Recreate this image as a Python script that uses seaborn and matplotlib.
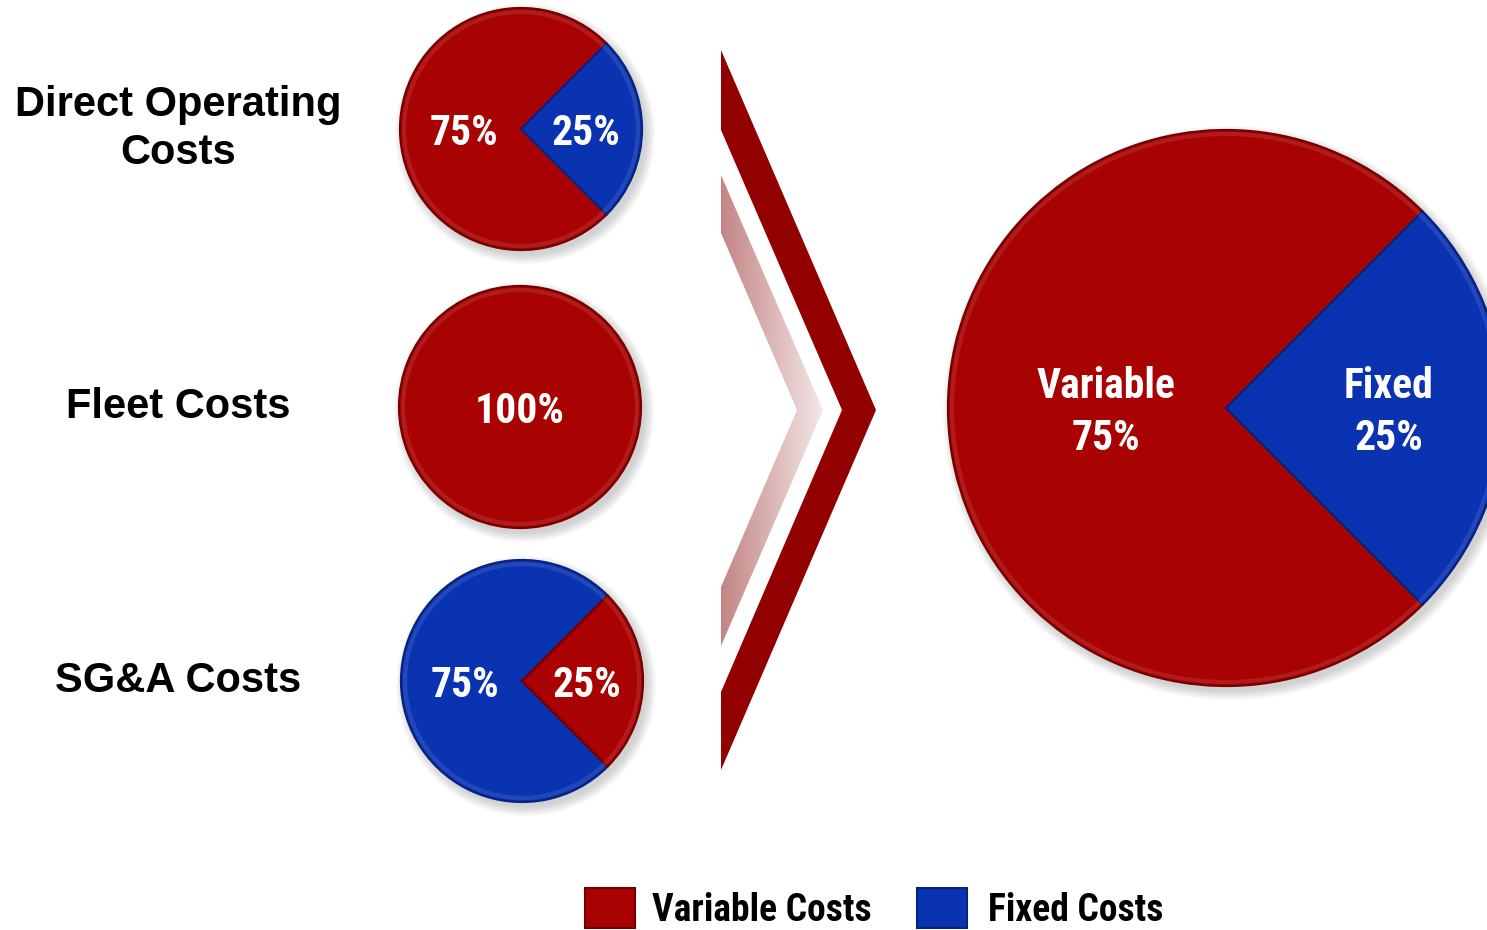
import numpy as np
import matplotlib
matplotlib.use("Agg")
import matplotlib.pyplot as plt
from matplotlib import font_manager
from matplotlib.patches import Circle, Polygon, Rectangle
import seaborn as sns

# chart data
categories = ["Direct Operating\nCosts", "Fleet Costs", "SG&A Costs"]
variable_pct = [75, 100, 25]
fixed_pct = [25, 0, 75]
total_labels = ["Variable", "Fixed"]
total_pct = [75, 25]
legend_labels = ["Variable Costs", "Fixed Costs"]

# chevron outlines (pixel space, y measured from top)
chevron_dark = [(721, 50), (876, 410), (721, 770), (721, 692), (842, 410), (721, 130)]
chevron_light = [(721, 175), (823, 410), (721, 646), (721, 587), (797, 410), (721, 233)]

W, H = 1487, 930
RED, BLUE = "#a80202", "#0a33b2"
RED_EDGE, BLUE_EDGE = "#740000", "#08237e"
DARK = "#930000"

sns.set_theme(style="white")
plt.rcParams["font.family"] = ["Liberation Sans", "DejaVu Sans"]

# look for a narrow bold face, fall back to plain Liberation Sans
installed = {f.name for f in font_manager.fontManager.ttflist}
narrow_font = None
for name in ["Liberation Sans Narrow", "Arial Narrow", "Roboto Condensed",
             "Open Sans Condensed", "Noto Sans Condensed", "DejaVu Sans Condensed"]:
    if name in installed:
        narrow_font = name
        break
if narrow_font is None:
    narrow = ["Liberation Sans", "DejaVu Sans"]
    pie_fs, leg_fs = 27, 23
else:
    narrow = [narrow_font, "Liberation Sans", "DejaVu Sans"]
    pie_fs, leg_fs = 30, 27
colors = dict(zip(legend_labels, sns.color_palette([RED, BLUE])))

fig = plt.figure(figsize=(W / 100, H / 100), dpi=100)
ax = fig.add_axes([0, 0, 1, 1])


def flip(y):
    return H - y


def shadow(cx, cy, r):
    for k in range(8):
        ax.add_patch(Circle((cx + 4, cy - 5), r + k * 1.3, color="#555555",
                            alpha=0.035, lw=0, zorder=1))


def draw_pie(cx, cy, r, values, cols, edges, labels, dists, fs):
    shadow(cx, cy, r)
    wedges, _ = ax.pie(values, colors=cols, startangle=45, counterclock=True,
                       center=(cx, cy), radius=r, frame=True,
                       wedgeprops=dict(linewidth=0))
    for w, ec in zip(wedges, edges):
        w.set_edgecolor(ec)
        w.set_linewidth(1.6)
        w.set_zorder(2)
    # soft highlight ring just inside the rim
    ax.add_patch(Circle((cx, cy), r - 4, facecolor="none", edgecolor="white",
                        alpha=0.1, lw=3, zorder=2.5))
    for w, lab, d in zip(wedges, labels, dists):
        mid = np.deg2rad((w.theta1 + w.theta2) / 2)
        if len(values) == 1:
            d = 0
        lines = lab.split("\n")
        x = cx + d * r * np.cos(mid)
        y0 = cy + d * r * np.sin(mid)
        for i, line in enumerate(lines):
            off = (i - (len(lines) - 1) / 2) * 52
            ax.text(x, y0 - off, line, ha="center", va="center_baseline",
                    color="white", fontsize=fs, fontweight="bold",
                    family=narrow, zorder=5)


# small pies
centers = [(521, 129), (520, 407), (522, 681)]
for cat, v, f, (cx, cy) in zip(categories, variable_pct, fixed_pct, centers):
    parts = [(v, RED, RED_EDGE), (f, BLUE, BLUE_EDGE)]
    parts = sorted([p for p in parts if p[0] > 0], key=lambda p: -p[0])
    draw_pie(cx, flip(cy), 121, [p[0] for p in parts], [p[1] for p in parts],
             [p[2] for p in parts], [f"{p[0]}%" for p in parts], [0.47, 0.54], pie_fs)
    lines = cat.split("\n")
    for i, line in enumerate(lines):
        base = cy + 11 + (i - (len(lines) - 1) / 2) * 47
        ax.text(178, flip(base), line, ha="center", va="baseline", fontsize=30,
                fontweight="bold", color="black")

# big pie
draw_pie(1226, flip(408), 278, total_pct, [RED, BLUE], [RED_EDGE, BLUE_EDGE],
         [f"{n}\n{p}%" for n, p in zip(total_labels, total_pct)], [0.43, 0.585], pie_fs)

# chevrons
ax.add_patch(Polygon([(x, flip(y)) for x, y in chevron_dark], closed=True,
                     color=DARK, lw=0, zorder=3))
light = Polygon([(x, flip(y)) for x, y in chevron_light], closed=True,
                facecolor="none", lw=0)
ax.add_patch(light)
grad = np.linspace(0, 1, 256).reshape(1, -1)
cmap = matplotlib.colors.LinearSegmentedColormap.from_list("fade", ["#c48484", "#f3e8e8"])
img = ax.imshow(grad, cmap=cmap, extent=(721, 823, flip(646), flip(175)),
                aspect="auto", zorder=3)
img.set_clip_path(light)

# legend
for lab, x0, tx, ec in zip(legend_labels, [585, 917], [652, 988], [RED_EDGE, BLUE_EDGE]):
    ax.add_patch(Rectangle((x0, flip(928)), 50, 40, facecolor=colors[lab],
                           edgecolor=ec, lw=1.5, zorder=3))
    ax.text(tx, flip(921), lab, ha="left", va="baseline", fontsize=leg_fs,
            fontweight="bold", family=narrow, color="black")

ax.set_xlim(0, W)
ax.set_ylim(0, H)
ax.set_aspect("auto")
ax.axis("off")
fig.savefig("out.png", dpi=100, facecolor="white")
